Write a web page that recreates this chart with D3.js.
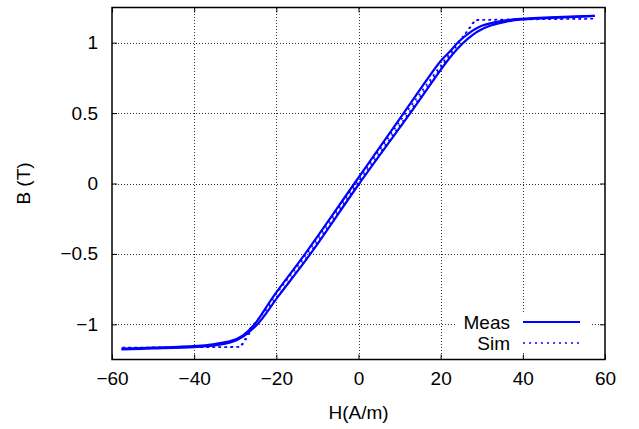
<!DOCTYPE html>
<html>
<head>
<meta charset="utf-8">
<script src="https://cdn.jsdelivr.net/npm/d3@7"></script>
<style>
  html, body { margin: 0; padding: 0; background: #fff; }
  svg { display: block; }
  text { font-family: "Liberation Sans", Arial, Helvetica, sans-serif; fill: #000; }
</style>
</head>
<body>
<svg id="chart" width="639" height="429"></svg>
<script>
// ---- data ----
const xTicks = [-60, -40, -20, 0, 20, 40, 60];
const yTicks = [-1, -0.5, 0, 0.5, 1];
const seriesNames = ["Meas", "Sim"];

// Measured loop: ascending branch then descending branch
const measAscH = [-57.7, -50, -40, -35, -31, -28, -24.6, -19.5, -11.7, 0.2, 12.6, 21.6, 24.2, 26.5, 29, 32, 36, 40, 50, 57.5];
const measAscB = [-1.178, -1.172, -1.162, -1.15, -1.128, -1.085, -1.0, -0.8, -0.5, 0.0, 0.5, 0.87, 0.96, 1.025, 1.08, 1.12, 1.15, 1.165, 1.18, 1.19];
const measDescH = [57.5, 50, 40, 35, 30, 27, 24.5, 22, 20, 11, -1, -13, -20.9, -25.3, -28.2, -31, -35, -40, -50, -57.7];
const measDescB = [1.19, 1.184, 1.17, 1.155, 1.12, 1.07, 1.01, 0.93, 0.87, 0.5, 0.0, -0.5, -0.81, -1.0, -1.08, -1.118, -1.14, -1.155, -1.166, -1.172];

// Simulated loop: sharp knees
const simAscH = [-57.5, -40, -30, -28.8, -27.5, -26.4, -19.6, -12.0, -0.2, 12.2, 21.2, 24.5, 26.6, 28.3, 40, 57.5];
const simAscB = [-1.165, -1.163, -1.162, -1.16, -1.10, -1.03, -0.8, -0.5, 0.0, 0.5, 0.87, 1.0, 1.09, 1.16, 1.165, 1.17];
const simDescH = [57.5, 40, 28.5, 27.0, 24.2, 20.8, 11.5, -0.7, -12.6, -20.4, -25.3, -26.8, -28.6, -40, -57.5];
const simDescB = [1.17, 1.167, 1.162, 1.10, 1.0, 0.87, 0.5, 0.0, -0.5, -0.8, -1.0, -1.08, -1.16, -1.163, -1.165];

// ---- layout ----
const svg = d3.select("#chart");
const L = 112, R = 605, T = 7.5, B = 359.5;
const x = d3.scaleLinear().domain([-60, 60]).range([L, R]);
const y = d3.scaleLinear().domain([-1.25, 1.25]).range([B, T]);
const fmt = v => (v < 0 ? "\u2212" : "") + Math.abs(v);

// grid
const grid = svg.append("g").attr("stroke", "#333").attr("stroke-width", 1)
  .attr("stroke-dasharray", "1,2").attr("shape-rendering", "crispEdges");
xTicks.filter(v => v > -60 && v < 60).forEach(v => {
  grid.append("line").attr("x1", Math.round(x(v)) + 0.5).attr("x2", Math.round(x(v)) + 0.5)
    .attr("y1", T).attr("y2", B);
});
yTicks.forEach(v => {
  grid.append("line").attr("y1", Math.round(y(v)) + 0.5).attr("y2", Math.round(y(v)) + 0.5)
    .attr("x1", L).attr("x2", R);
});

// legend background (covers grid)
svg.append("rect").attr("x", 457).attr("y", 312).attr("width", 135).attr("height", 40).attr("fill", "#fff");

// curves
svg.append("clipPath").attr("id", "clip").append("rect")
  .attr("x", L).attr("y", T).attr("width", R - L).attr("height", B - T);
const zip = (a, b) => a.map((v, i) => [v, b[i]]);
const simLine = d3.line().x(d => x(d[0])).y(d => y(d[1]));
const measLine = d3.line().x(d => x(d[0])).y(d => y(d[1])).curve(d3.curveCatmullRom.alpha(0.5));

const plot = svg.append("g").attr("clip-path", "url(#clip)");
plot.append("path").datum(zip(simAscH, simAscB).concat(zip(simDescH, simDescB)))
  .attr("d", simLine).attr("fill", "none").attr("stroke", "#0000ff").attr("stroke-width", 1.6)
  .attr("stroke-dasharray", "2,4");
[zip(measAscH, measAscB), zip(measDescH, measDescB)].forEach(br => {
  plot.append("path").datum(br)
    .attr("d", measLine).attr("fill", "none").attr("stroke", "#0000ff").attr("stroke-width", 2.2)
    .attr("stroke-linejoin", "round");
});

// axes (frame with inward ticks on all sides)
const axB = d3.axisBottom(x).tickValues(xTicks).tickSizeInner(-5).tickSizeOuter(0).tickFormat(fmt).tickPadding(12);
const axT = d3.axisTop(x).tickValues(xTicks).tickSizeInner(-5).tickSizeOuter(0).tickFormat("");
const axL = d3.axisLeft(y).tickValues(yTicks).tickSizeInner(-5).tickSizeOuter(0).tickFormat(fmt).tickPadding(14);
const axR = d3.axisRight(y).tickValues(yTicks).tickSizeInner(-5).tickSizeOuter(0).tickFormat("");

function styleAxis(g) {
  g.select(".domain").remove();
  g.selectAll("line").attr("stroke", "#000").attr("stroke-width", 1);
  g.selectAll("text").attr("font-size", 19).attr("font-family", "Liberation Sans, Arial, sans-serif");
}
svg.append("g").attr("transform", `translate(0,${B})`).call(axB).call(styleAxis);
svg.append("g").attr("transform", `translate(0,${T})`).call(axT).call(styleAxis);
svg.append("g").attr("transform", `translate(${L},0)`).call(axL).call(styleAxis);
svg.append("g").attr("transform", `translate(${R},0)`).call(axR).call(styleAxis);

svg.append("rect").attr("x", L).attr("y", T).attr("width", R - L).attr("height", B - T)
  .attr("fill", "none").attr("stroke", "#000").attr("stroke-width", 1.5);

// axis titles
svg.append("text").attr("x", x(0)).attr("y", 419).attr("text-anchor", "middle")
  .attr("font-size", 19).text("H(A/m)");
svg.append("text").attr("transform", `translate(30,${y(0)}) rotate(-90)`).attr("text-anchor", "middle")
  .attr("font-size", 19).text("B (T)");

// legend
const legY = [322, 343];
seriesNames.forEach((name, i) => {
  svg.append("text").attr("x", 510).attr("y", legY[i] + 7).attr("text-anchor", "end")
    .attr("font-size", 19).text(name);
  const l = svg.append("line").attr("x1", 523).attr("x2", 580).attr("y1", legY[i]).attr("y2", legY[i])
    .attr("stroke", "#0000ff");
  if (i === 0) l.attr("stroke-width", 2.2);
  else l.attr("stroke-width", 1.6).attr("stroke-dasharray", "2,4");
});
</script>
</body>
</html>
